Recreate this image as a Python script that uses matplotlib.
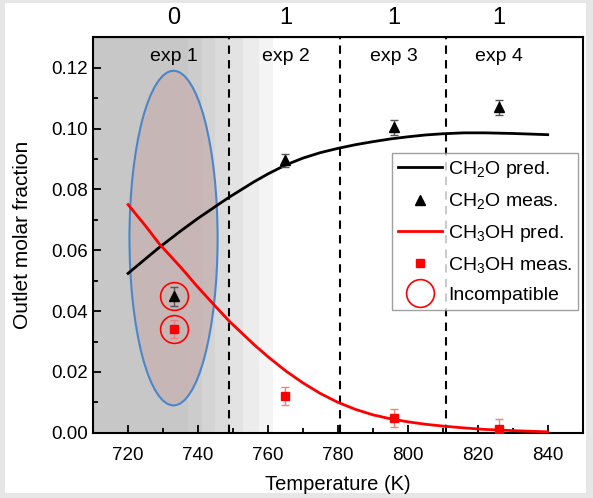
import matplotlib
matplotlib.use("Agg")
import matplotlib.pyplot as plt
from matplotlib.patches import Ellipse, Rectangle
from matplotlib.lines import Line2D
import numpy as np

plt.rcParams['font.family'] = ['Liberation Sans', 'DejaVu Sans']
plt.rcParams['mathtext.fontset'] = 'custom'
plt.rcParams['mathtext.rm'] = 'Liberation Sans'
plt.rcParams['mathtext.it'] = 'Liberation Sans'

# predicted curves
T_pred = [720, 725, 729, 735, 740, 746, 749, 756, 760, 765, 770, 775, 780, 785, 790,
          795, 800, 805, 810, 816, 822, 830, 840]
ch2o_pred = [0.0524, 0.0572, 0.0610, 0.0663, 0.0705, 0.0752, 0.0775, 0.0825, 0.0851,
             0.0880, 0.0903, 0.0921, 0.0935, 0.0947, 0.0957, 0.0966, 0.0973, 0.0979,
             0.0983, 0.0986, 0.0986, 0.0984, 0.0980]
ch3oh_pred = [0.0750, 0.0680, 0.0620, 0.0545, 0.0478, 0.0403, 0.0366, 0.0290, 0.0250,
              0.0204, 0.0164, 0.0129, 0.0100, 0.0077, 0.0059, 0.0046, 0.0036, 0.0028,
              0.0022, 0.0016, 0.0011, 0.0007, 0.0003]

# measurements
T_meas = [733, 765, 796, 826]
ch2o_meas = [0.0448, 0.0896, 0.1004, 0.1070]
ch2o_err = [0.0030, 0.0022, 0.0025, 0.0025]
ch3oh_meas = [0.0340, 0.0121, 0.0049, 0.0014]
ch3oh_err = [0.0030, 0.0030, 0.0030, 0.0030]

top_labels = ['0', '1', '1', '1']
exp_labels = ['exp 1', 'exp 2', 'exp 3', 'exp 4']
exp_bounds = [749, 780.5, 811]

# gray shading bands behind exp 1
band_edges = [710, 737, 741, 745, 749, 753, 757.5, 761.5]
band_gray = [0.78, 0.80, 0.83, 0.86, 0.89, 0.925, 0.955]

fig = plt.figure(figsize=(5.93, 4.98), dpi=100, facecolor='#e6e6e6')
fig.patches.append(Rectangle((0.0084, 0.01), 0.98, 0.984, transform=fig.transFigure,
                             facecolor='white', edgecolor='none', zorder=-1))
ax = fig.add_axes([0.157, 0.131, 0.8256, 0.794])

for i in range(len(band_gray)):
    g = band_gray[i]
    ax.axvspan(band_edges[i], band_edges[i + 1], color=(g, g, g), lw=0, zorder=0)

ax.add_patch(Ellipse((733, 0.064), 25.2, 0.110, facecolor='#c8b3b3', alpha=0.85,
                     edgecolor='none', zorder=1))
ax.add_patch(Ellipse((733, 0.064), 25.2, 0.110, facecolor='none',
                     edgecolor='#4a86c8', lw=1.5, zorder=2))

for xb in exp_bounds:
    ax.axvline(xb, color='black', ls=(0, (4, 3)), lw=1.5, zorder=2)

for t, lab in zip(T_meas, exp_labels):
    ax.text(t, 0.1236, lab, ha='center', va='center', fontsize=14, zorder=5)

ax.plot(T_pred, ch2o_pred, color='black', lw=2, zorder=3)
ax.plot(T_pred, ch3oh_pred, color='red', lw=2, zorder=3)

ax.errorbar(T_meas, ch2o_meas, yerr=ch2o_err, fmt='^', color='black', ms=7,
            ecolor='#555555', elinewidth=1, capsize=3, zorder=4)
ax.errorbar(T_meas, ch3oh_meas, yerr=ch3oh_err, fmt='s', color='red', ms=6,
            ecolor='#f08080', elinewidth=1, capsize=3, zorder=4)

# incompatible points in exp 1
ax.plot([T_meas[0], T_meas[0]], [ch2o_meas[0], ch3oh_meas[0]], 'o', ms=20,
        mfc='none', mec='red', mew=1.2, ls='none', zorder=4)

ax.set_xlim(710, 850)
ax.set_ylim(0, 0.13)
ax.set_xticks([720, 740, 760, 780, 800, 820, 840])
ax.set_xticks(np.arange(710, 851, 10), minor=True)
ax.set_yticks([0.0, 0.02, 0.04, 0.06, 0.08, 0.10, 0.12])
ax.set_yticks(np.arange(0, 0.131, 0.01), minor=True)
ax.yaxis.set_major_formatter(plt.FormatStrFormatter('%.2f'))
ax.tick_params(which='both', direction='in', labelsize=13.5, width=1.3)
ax.tick_params(which='major', length=6)
ax.tick_params(which='minor', length=3.5)
ax.tick_params(axis='x', pad=10)
for s in ax.spines.values():
    s.set_linewidth(1.5)

ax.set_xlabel('Temperature (K)', fontsize=14.5, labelpad=8)
ax.set_ylabel('Outlet molar fraction', fontsize=15, labelpad=14)

top = ax.secondary_xaxis('top')
top.set_xticks(T_meas)
top.set_xticklabels(top_labels)
top.tick_params(length=0, labelsize=17, pad=6)

handles = [
    Line2D([], [], color='black', lw=2),
    Line2D([], [], color='black', marker='^', ls='none', ms=7),
    Line2D([], [], color='red', lw=2),
    Line2D([], [], color='red', marker='s', ls='none', ms=6),
    Line2D([], [], marker='o', ls='none', ms=20, mfc='none', mec='red', mew=1.2),
]
labels = ['CH$_2$O pred.', 'CH$_2$O meas.', 'CH$_3$OH pred.', 'CH$_3$OH meas.', 'Incompatible']
leg = ax.legend(handles, labels, loc='upper left', bbox_to_anchor=(0.61, 0.707),
                borderaxespad=0, fontsize=14, frameon=True, fancybox=False,
                edgecolor='#888888', handlelength=2.3, handletextpad=0.3,
                labelspacing=0.58, borderpad=0.3)
leg.get_frame().set_linewidth(1)
leg.set_zorder(6)

fig.savefig('out.png', dpi=100, facecolor=fig.get_facecolor())
